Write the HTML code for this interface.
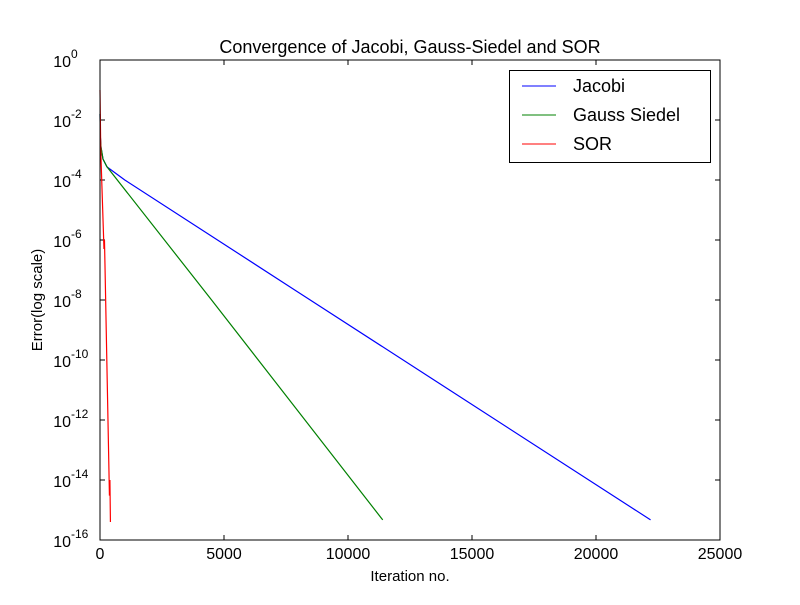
<!DOCTYPE html>
<html><head><meta charset="utf-8"><style>
body{margin:0;background:#fff}
svg text{font-family:"Liberation Sans","DejaVu Sans",sans-serif;fill:#000}
</style></head><body>
<svg id="c" width="800" height="600" xmlns="http://www.w3.org/2000/svg">
<rect width="800" height="600" fill="#fff"/>
<text x="410" y="53" font-size="18" text-anchor="middle">Convergence of Jacobi, Gauss-Siedel and SOR</text>
<text x="410" y="581" font-size="15" text-anchor="middle">Iteration no.</text>
<text transform="translate(42,300) rotate(-90)" font-size="15" text-anchor="middle">Error(log scale)</text>
<g id="plot"></g>
<rect x="100" y="60" width="620" height="480" fill="none" stroke="#000" stroke-width="1"/>
<g>
<rect x="509.5" y="70.5" width="201" height="92" fill="#fff" stroke="#000"/>
<line x1="522" y1="86" x2="556" y2="86" stroke="#0000ff"/>
<text x="573" y="92" font-size="18">Jacobi</text>
<line x1="522" y1="115" x2="556" y2="115" stroke="#008000"/>
<text x="573" y="121" font-size="18">Gauss Siedel</text>
<line x1="522" y1="144" x2="556" y2="144" stroke="#ff0000"/>
<text x="573" y="150" font-size="18">SOR</text>
</g>
</svg>
<script>
const xTicks=[0,5000,10000,15000,20000,25000];
const yTickExps=[0,-2,-4,-6,-8,-10,-12,-14,-16];
const jacobiIter=[0,10,40,120,280,1000,7860,22200];
const jacobiLogErr=[-1.8,-2.5,-2.9,-3.3,-3.56,-4.0,-7.67,-15.33];
const gaussIter=[0,10,40,120,280,4500,11400];
const gaussLogErr=[-1.8,-2.5,-2.9,-3.3,-3.56,-8.0,-15.33];
const sorIter=[0,30,160,180,200,380,400,400,420];
const sorLogErr=[-1,-3,-6.3,-6.0,-6.8,-14.5,-14.5,-14.0,-15.4];
const L=100,R=720,T=60,B=540;
const xs=v=>L+(v-0)/25000*(R-L);
const ys=e=>T+(0-e)/16*(B-T);
const NS='http://www.w3.org/2000/svg';
const g=document.getElementById('plot');
function mk(t,a){const e=document.createElementNS(NS,t);for(const k in a)e.setAttribute(k,a[k]);g.appendChild(e);return e;}
xTicks.forEach(v=>{
 const x=xs(v);
 const t1=mk('line',{x1:x,y1:B,x2:x,y2:B-5,stroke:'#000'});
 
 
 const t2=mk('line',{x1:x,y1:T,x2:x,y2:T+5,stroke:'#000'});
 
 
 const tx=mk('text',{x:x,y:B+19,'font-size':16,'text-anchor':'middle'});
 tx.textContent=v;
 
 
});
yTickExps.forEach(e=>{
 const y=ys(e);
 const t1=mk('line',{x1:L,y1:y,x2:L+5,y2:y,stroke:'#000'});
 
 
 const t2=mk('line',{x1:R,y1:y,x2:R-5,y2:y,stroke:'#000'});
 
 
 const tx=mk('text',{x:L-29,y:y+7,'font-size':16,'text-anchor':'end'});
 tx.textContent='10';
 
 
 const sp=mk('text',{x:L-29,y:y-2,'font-size':12,'text-anchor':'start'});
 sp.textContent=String(e);
 
 
});
function line(ix,ev,color,name){
 const d=ix.map((v,i)=>(i?'L':'M')+xs(v).toFixed(2)+' '+ys(ev[i]).toFixed(2)).join(' ');
 const p=mk('path',{d:d,fill:'none',stroke:color,'stroke-width':1.2});
 
 
}
line(jacobiIter,jacobiLogErr,'#0000ff','jacobi-line');
line(gaussIter,gaussLogErr,'#008000','gauss-siedel-line');
line(sorIter,sorLogErr,'#ff0000','sor-line');
</script>
</body></html>
